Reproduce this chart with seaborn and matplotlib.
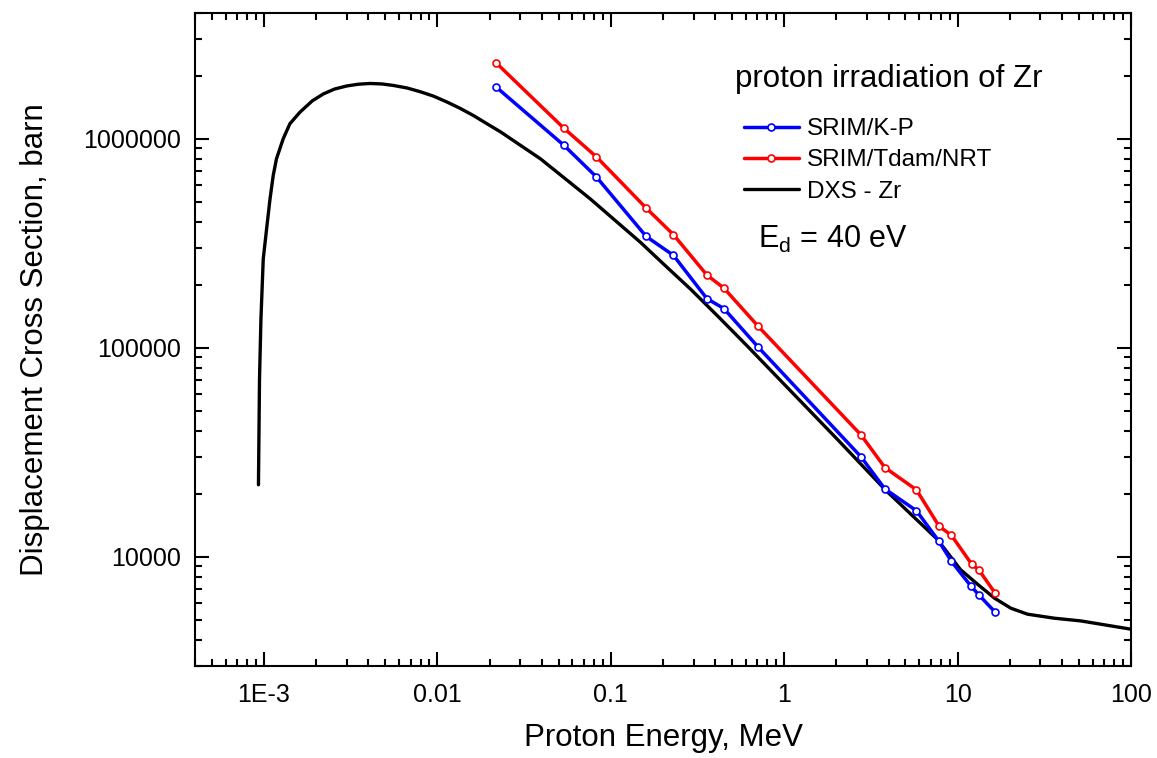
import numpy as np
import pandas as pd
import matplotlib
matplotlib.use("Agg")
import matplotlib.pyplot as plt
import matplotlib.ticker as mticker
import seaborn as sns

# ---------------- data ----------------
kp_energy = [0.0218, 0.0535, 0.0826, 0.160, 0.2296, 0.358, 0.449, 0.706,
             2.77, 3.81, 5.79, 7.78, 9.22, 11.9, 13.25, 16.47]
kp_values = [1.77e6, 9.33e5, 6.57e5, 3.41e5, 2.77e5, 1.72e5, 1.54e5, 1.01e5,
             3.01e4, 2.11e4, 1.66e4, 1.19e4, 9490, 7260, 6570, 5430]

nrt_energy = [0.0218, 0.0535, 0.0826, 0.160, 0.2296, 0.358, 0.449, 0.706,
              2.77, 3.81, 5.79, 7.82, 9.22, 12.08, 13.25, 16.47]
nrt_values = [2.31e6, 1.126e6, 8.2e5, 4.66e5, 3.48e5, 2.23e5, 1.93e5, 1.27e5,
              3.83e4, 2.67e4, 2.09e4, 1.40e4, 1.265e4, 9190, 8660, 6690]

dxs_energy = [9.29e-4, 9.42e-4, 9.6e-4, 9.9e-4, 1.04e-3, 1.083e-3, 1.13e-3, 1.18e-3,
              1.29e-3, 1.41e-3, 1.61e-3, 1.9e-3, 2.2e-3, 2.55e-3, 3.0e-3, 3.5e-3,
              4.09e-3, 4.8e-3, 5.58e-3, 6.7e-3, 7.96e-3, 0.0095, 0.01135, 0.0135,
              0.0162, 0.019, 0.0231, 0.030, 0.0393, 0.055, 0.0763, 0.11, 0.148,
              0.2, 0.288, 0.42, 0.612, 2.03, 3.85, 7.65, 10.4, 13.0, 16.3, 20.3,
              25.3, 36.1, 51.4, 100]
dxs_values = [22100, 70600, 137000, 266000, 384000, 515000, 667000, 802000,
              1.0e6, 1.18e6, 1.34e6, 1.52e6, 1.64e6, 1.73e6, 1.79e6, 1.825e6,
              1.84e6, 1.83e6, 1.80e6, 1.75e6, 1.68e6, 1.60e6, 1.50e6, 1.40e6,
              1.29e6, 1.19e6, 1.08e6, 9.33e5, 8.02e5, 6.41e5, 5.15e5, 3.96e5, 3.20e5,
              2.53e5, 1.91e5, 1.40e5, 1.02e5, 3.64e4, 2.08e4, 1.21e4, 8670, 7400,
              6340, 5670, 5310, 5080, 4930, 4500]

x_ticks = [1e-3, 1e-2, 1e-1, 1, 10, 100]
x_ticklabels = ["1E-3", "0.01", "0.1", "1", "10", "100"]
y_ticks = [1e4, 1e5, 1e6]
y_ticklabels = ["10000", "100000", "1000000"]

series_labels = ["SRIM/K-P", "SRIM/Tdam/NRT", "DXS - Zr"]

# ---------------- style ----------------
sns.set_style("ticks")
plt.rcParams["font.family"] = ["Liberation Sans", "DejaVu Sans"]
plt.rcParams["mathtext.fontset"] = "custom"
plt.rcParams["mathtext.rm"] = "Liberation Sans"
plt.rcParams["axes.linewidth"] = 1.5
plt.rcParams["text.color"] = "black"
plt.rcParams["axes.labelcolor"] = "black"
plt.rcParams["xtick.color"] = "black"
plt.rcParams["ytick.color"] = "black"
plt.rcParams["xtick.labelcolor"] = "black"
plt.rcParams["ytick.labelcolor"] = "black"

fig = plt.figure(figsize=(11.57, 7.58), dpi=100)
ax = fig.add_axes([195 / 1157, 1 - 666 / 758, (1131 - 195) / 1157, (666 - 13) / 758])

sns.lineplot(x=dxs_energy, y=dxs_values, ax=ax, color="black", lw=2.4,
             sort=False, estimator=None, label=series_labels[2])
sns.lineplot(x=kp_energy, y=kp_values, ax=ax, color="#0000ff", lw=2.5,
             marker="o", markersize=5, markerfacecolor="white",
             markeredgecolor="#0000ff", markeredgewidth=1.2,
             sort=False, estimator=None, label=series_labels[0])
sns.lineplot(x=nrt_energy, y=nrt_values, ax=ax, color="#ff0000", lw=2.5,
             marker="o", markersize=5, markerfacecolor="white",
             markeredgecolor="#ff0000", markeredgewidth=1.2,
             sort=False, estimator=None, label=series_labels[1])

ax.set_xscale("log")
ax.set_yscale("log")
ax.set_xlim(4e-4, 100)
ax.set_ylim(3000, 4e6)

ax.xaxis.set_major_locator(mticker.FixedLocator(x_ticks))
ax.xaxis.set_major_formatter(mticker.FixedFormatter(x_ticklabels))
ax.yaxis.set_major_locator(mticker.FixedLocator(y_ticks))
ax.yaxis.set_major_formatter(mticker.FixedFormatter(y_ticklabels))
ax.xaxis.set_minor_locator(mticker.LogLocator(base=10, subs=np.arange(2, 10), numticks=20))
ax.yaxis.set_minor_locator(mticker.LogLocator(base=10, subs=np.arange(2, 10), numticks=20))
ax.xaxis.set_minor_formatter(mticker.NullFormatter())
ax.yaxis.set_minor_formatter(mticker.NullFormatter())

ax.tick_params(which="both", direction="in", top=True, right=True, width=1.5,
               colors="black", labelcolor="black")
ax.tick_params(which="major", length=10)
ax.tick_params(which="minor", length=5)
ax.tick_params(axis="x", which="major", labelsize=18, pad=12)
ax.tick_params(axis="y", which="major", labelsize=18, pad=10)
for s in ax.spines.values():
    s.set_visible(True)
    s.set_color("black")
    s.set_linewidth(1.5)

ax.set_xlabel("Proton Energy, MeV", fontsize=22.5, labelpad=12, color="black")
ax.set_ylabel("Displacement Cross Section, barn", fontsize=22.5, labelpad=24, color="black")

handles, labels = ax.get_legend_handles_labels()
order = [labels.index(l) for l in series_labels]
leg = ax.legend([handles[i] for i in order], [labels[i] for i in order],
                loc="upper left", bbox_to_anchor=(744 / 1157, 1 - 118 / 758),
                bbox_transform=fig.transFigure, frameon=False, fontsize=17.5,
                handlelength=2.25, handletextpad=0.35, labelspacing=0.38,
                borderpad=0, borderaxespad=0)
for t in leg.get_texts():
    t.set_color("black")

fig.text(735 / 1157, 1 - 87 / 758, "proton irradiation of Zr", fontsize=22.5,
         va="baseline", ha="left", color="black")
fig.text(758 / 1157, 1 - 248 / 758, r"E$_\mathregular{d}$ = 40 eV", fontsize=22,
         va="baseline", ha="left", color="black")

fig.savefig("out.png", dpi=100)
